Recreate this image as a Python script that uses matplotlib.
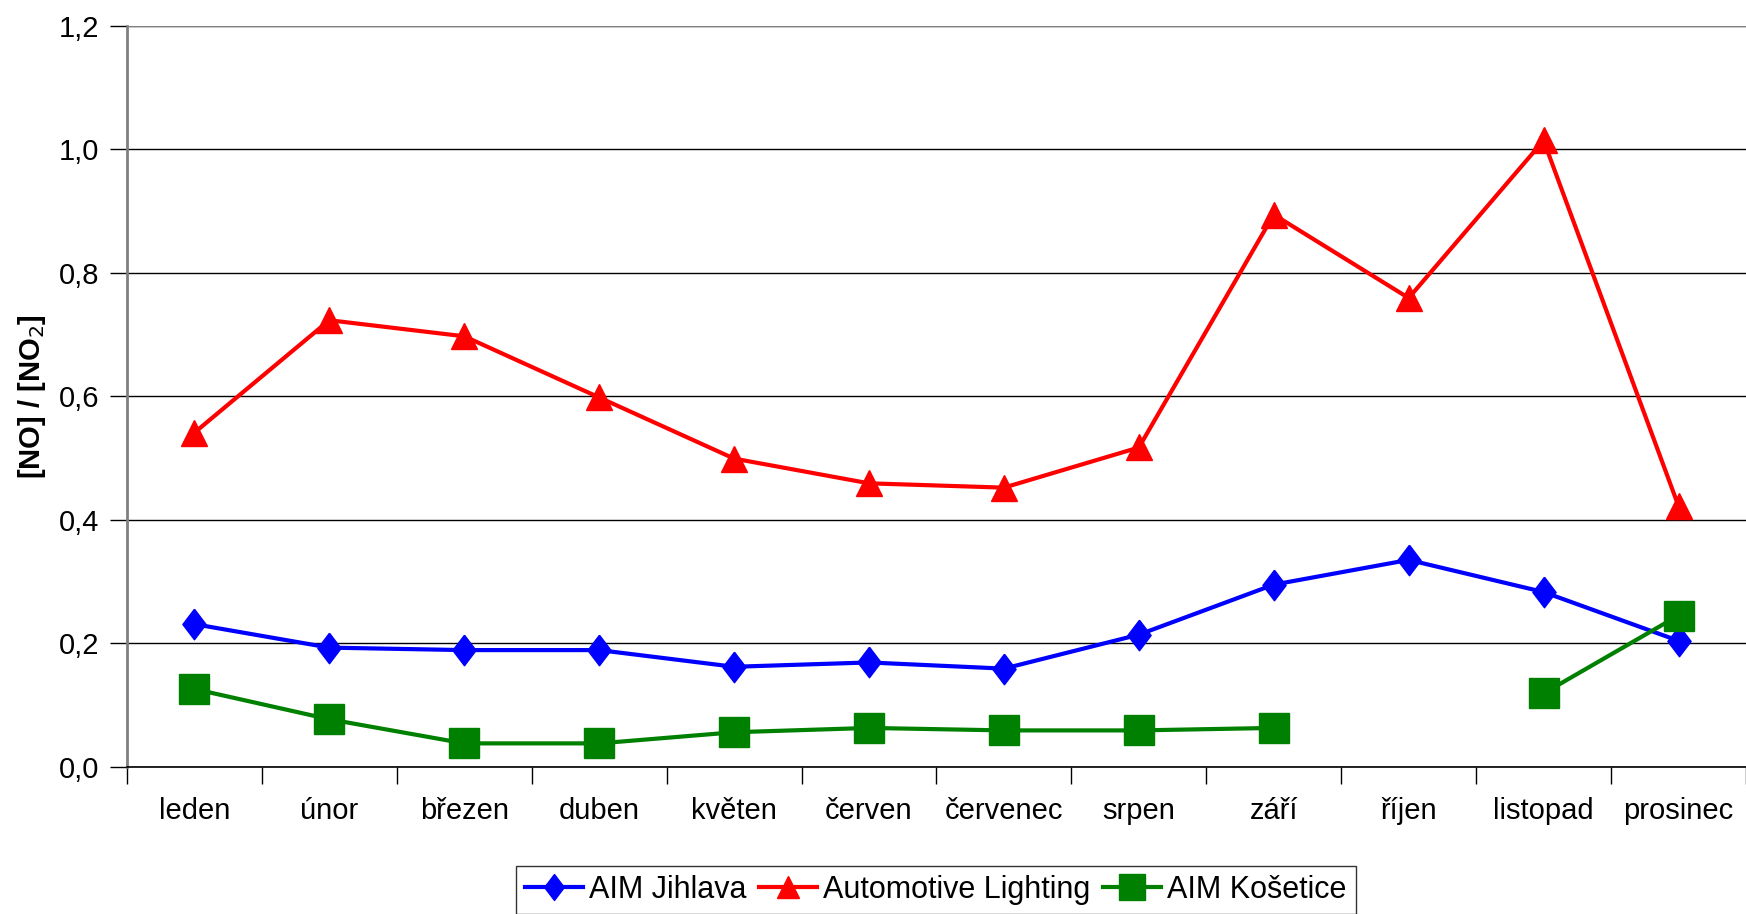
import numpy as np
import matplotlib
matplotlib.use("Agg")
import matplotlib.pyplot as plt

# months and ratio [NO]/[NO2] per station
months = ["leden", "únor", "březen", "duben", "květen", "červen",
          "červenec", "srpen", "září", "říjen", "listopad", "prosinec"]
jihlava = [0.231, 0.193, 0.189, 0.189, 0.162, 0.169, 0.159, 0.214, 0.295, 0.335, 0.283, 0.204]
automotive = [0.541, 0.723, 0.697, 0.598, 0.499, 0.459, 0.452, 0.517, 0.894, 0.759, 1.014, 0.422]
kosetice = [0.126, 0.077, 0.038, 0.038, 0.056, 0.063, 0.059, 0.059, 0.063, np.nan, 0.119, 0.245]
y_ticks = [0.0, 0.2, 0.4, 0.6, 0.8, 1.0, 1.2]
y_labels = ["0,0", "0,2", "0,4", "0,6", "0,8", "1,0", "1,2"]

plt.rcParams['font.family'] = ['Liberation Sans', 'DejaVu Sans']
narrow = ['Liberation Sans Narrow', 'Liberation Sans', 'DejaVu Sans']

fig = plt.figure(figsize=(17.46, 9.14), dpi=100)
ax = fig.add_axes([0.0727, 0.161, 0.9273, 0.811])

x = np.arange(len(months)) + 0.5
diamond = [(0, 1), (0.76, 0), (0, -1), (-0.76, 0), (0, 1)]

ax.plot(x, jihlava, color='#0000ff', lw=3, marker=diamond, markersize=22,
        label='AIM Jihlava', zorder=3)
ax.plot(x, automotive, color='#ff0000', lw=3, marker='^', markersize=19,
        label='Automotive Lighting', zorder=3)
ax.plot(x, kosetice, color='#008000', lw=3, marker='s', markersize=22,
        label='AIM Košetice', zorder=3)

ax.set_xlim(0, 12)
ax.set_ylim(0, 1.2)
ax.set_yticks(y_ticks)
ax.set_yticklabels(y_labels)
ax.yaxis.grid(True, color='black', lw=1)
ax.set_axisbelow(True)

ax.set_xticks(np.arange(0, 13))
ax.set_xticklabels([])
ax.set_xticks(x, minor=True)
ax.set_xticklabels(months, minor=True)
ax.tick_params(axis='x', which='minor', length=0, pad=22, labelsize=21)
ax.tick_params(axis='x', which='major', length=12, direction='out', width=1)
ax.tick_params(axis='y', length=12, direction='out', width=1, labelsize=21, pad=8)

for s in ['top', 'right']:
    ax.spines[s].set_visible(False)
ax.spines['left'].set_color('#808080')
ax.spines['left'].set_linewidth(2)
ax.spines['bottom'].set_color('black')
ax.spines['bottom'].set_linewidth(1.2)
ax.axhline(1.2, color='#808080', lw=1.5, zorder=1)

ax.set_ylabel('[NO] / [NO$_2$]', fontsize=21, fontweight='bold', family=narrow, labelpad=8)

leg = fig.legend(loc='upper center', bbox_to_anchor=(0.536, 0.0525), ncol=3,
                 prop={'family': narrow, 'size': 22}, frameon=True, fancybox=False,
                 handlelength=1.9, handletextpad=0.2, columnspacing=0.4,
                 borderpad=0.3, borderaxespad=0, markerscale=0.85)
leg.get_frame().set_edgecolor('black')
leg.get_frame().set_linewidth(1)

fig.savefig('out.png', dpi=100)
